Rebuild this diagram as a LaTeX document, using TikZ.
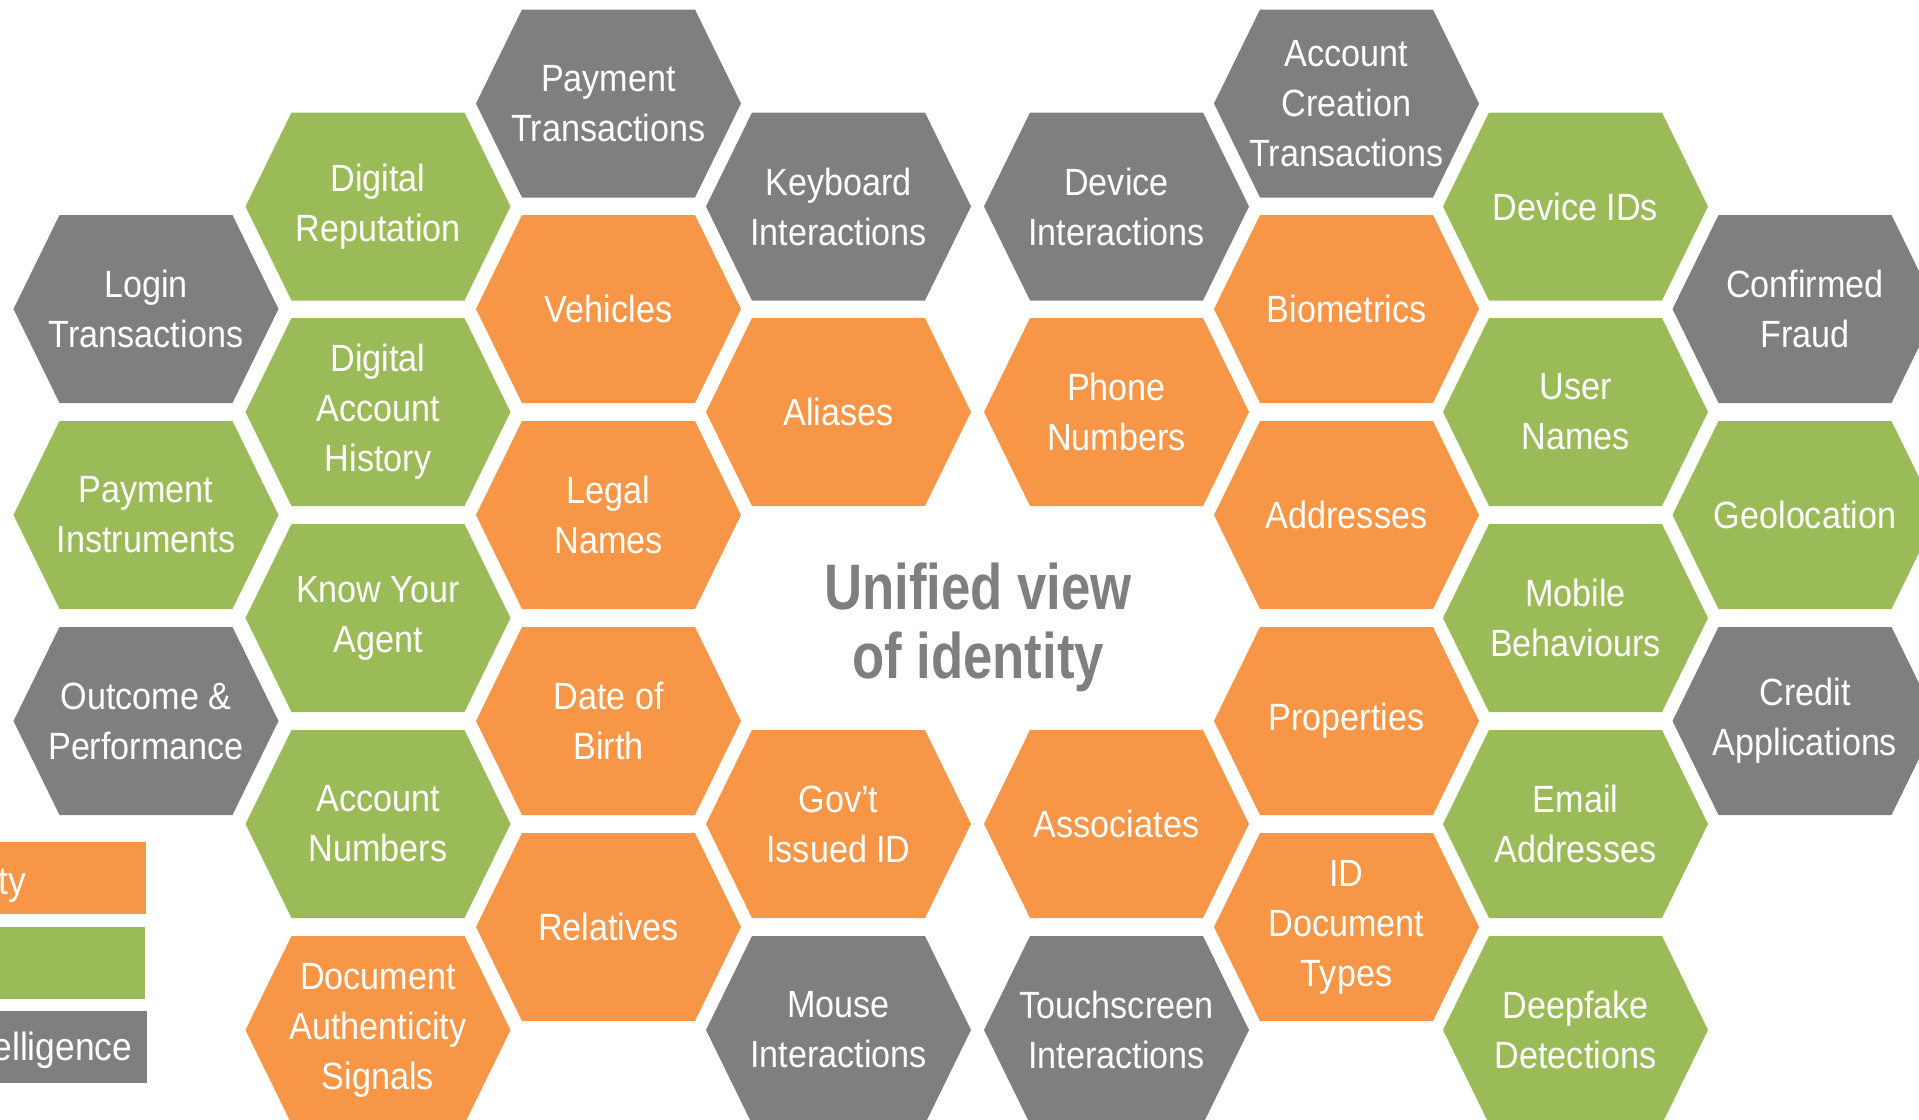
\documentclass[tikz,border=0pt]{standalone}
\usepackage{fontspec}
\setmainfont[FakeStretch=0.9]{Liberation Sans}
\newfontfamily\headfont[FakeStretch=0.82]{Liberation Sans}
\definecolor{idorange}{HTML}{F79646}
\definecolor{idgreen}{HTML}{9BBB59}
\definecolor{idgray}{HTML}{7F7F7F}
\tikzset{
  celltext/.style={text=white, align=center, inner sep=0pt, font=\fontsize{10.8}{14.2}\selectfont},
  legendtext/.style={text=white, inner sep=0pt, anchor=base east, font=\fontsize{11.2}{14}\selectfont},
}
% one hexagon cell: name, x, y, colour, text
\newcommand{\hexcell}[5]{%
  \fill[#4, shift={(#2,#3)}] (-0.865,0.94) -- (0.865,0.94) -- (1.325,0) -- (0.865,-0.94) -- (-0.865,-0.94) -- (-1.325,0) -- cycle;
  \node[celltext] (#1) at (#2,#3) {#5};}

\begin{document}
\begin{tikzpicture}
    \useasboundingbox (0,0) rectangle (19.19,-11.20);

    % Left block, first column
    \hexcell{login}{1.46}{-3.09}{idgray}{Login\\Transactions}
    \hexcell{payinst}{1.46}{-5.15}{idgreen}{Payment\\Instruments}
    \hexcell{outcome}{1.46}{-7.21}{idgray}{Outcome \&\\Performance}
    % second column
    \hexcell{digrep}{3.78}{-2.065}{idgreen}{Digital\\Reputation}
    \hexcell{dighist}{3.78}{-4.12}{idgreen}{Digital\\Account\\History}
    \hexcell{kya}{3.78}{-6.18}{idgreen}{Know Your\\Agent}
    \hexcell{accnum}{3.78}{-8.24}{idgreen}{Account\\Numbers}
    \hexcell{docauth}{3.78}{-10.30}{idorange}{Document\\Authenticity\\Signals}
    % third column
    \hexcell{paytrans}{6.085}{-1.035}{idgray}{Payment\\Transactions}
    \hexcell{vehicles}{6.085}{-3.09}{idorange}{Vehicles}
    \hexcell{legal}{6.085}{-5.15}{idorange}{Legal\\Names}
    \hexcell{dob}{6.085}{-7.21}{idorange}{Date of\\Birth}
    \hexcell{relatives}{6.085}{-9.27}{idorange}{Relatives}
    % fourth column
    \hexcell{keyboard}{8.385}{-2.065}{idgray}{Keyboard\\Interactions}
    \hexcell{aliases}{8.385}{-4.12}{idorange}{Aliases}
    \hexcell{govid}{8.385}{-8.24}{idorange}{Gov’t\\Issued ID}
    \hexcell{mouse}{8.385}{-10.30}{idgray}{Mouse\\Interactions}

    % Right block, first column
    \hexcell{devint}{11.165}{-2.065}{idgray}{Device\\Interactions}
    \hexcell{phone}{11.165}{-4.12}{idorange}{Phone\\Numbers}
    \hexcell{assoc}{11.165}{-8.24}{idorange}{Associates}
    \hexcell{touch}{11.165}{-10.30}{idgray}{Touchscreen\\Interactions}
    % second column
    \hexcell{acccreate}{13.465}{-1.035}{idgray}{Account\\Creation\\Transactions}
    \hexcell{biometrics}{13.465}{-3.09}{idorange}{Biometrics}
    \hexcell{addresses}{13.465}{-5.15}{idorange}{Addresses}
    \hexcell{properties}{13.465}{-7.21}{idorange}{Properties}
    \hexcell{iddoc}{13.465}{-9.27}{idorange}{ID\\Document\\Types}
    % third column
    \hexcell{devids}{15.755}{-2.065}{idgreen}{Device IDs}
    \hexcell{usernames}{15.755}{-4.12}{idgreen}{User\\Names}
    \hexcell{mobile}{15.755}{-6.18}{idgreen}{Mobile\\Behaviours}
    \hexcell{email}{15.755}{-8.24}{idgreen}{Email\\Addresses}
    \hexcell{deepfake}{15.755}{-10.30}{idgreen}{Deepfake\\Detections}
    % fourth column
    \hexcell{fraud}{18.05}{-3.09}{idgray}{Confirmed\\Fraud}
    \hexcell{geo}{18.05}{-5.15}{idgreen}{Geolocation}
    \hexcell{credit}{18.05}{-7.21}{idgray}{Credit\\Applications}

    % Centre caption
    \node[text=idgray, align=center, inner sep=0pt, font=\headfont\bfseries\fontsize{18.3}{19.6}\selectfont] (unified) at (9.78,-6.27) {Unified view\\of identity};

    % Legend boxes at the left edge
    \fill[idorange] (0,-8.42) rectangle (1.46,-9.14);
    \fill[idgreen] (0,-9.27) rectangle (1.45,-9.99);
    \fill[idgray] (0,-10.11) rectangle (1.47,-10.83);
    \node[legendtext] (legorange) at (0.27,-8.94) {ty};
    \node[legendtext] (leggray) at (1.33,-10.60) {elligence};
\end{tikzpicture}
\end{document}
